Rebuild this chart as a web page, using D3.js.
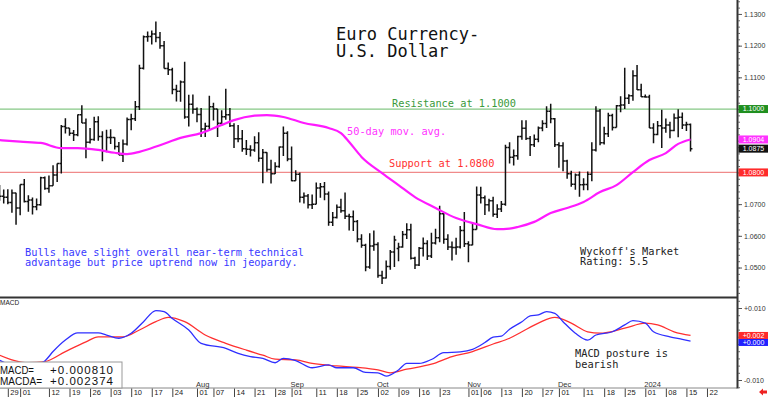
<!DOCTYPE html>
<html>
<head>
<meta charset="utf-8">
<script src="https://cdn.jsdelivr.net/npm/d3@7"></script>
<style>
  body { margin: 0; background: #fff; }
  svg { display: block; font-family: "Liberation Sans", Arial, sans-serif; }
  .mono { font-family: "DejaVu Sans Mono", "Liberation Mono", monospace; }
</style>
</head>
<body>
<svg id="chart" width="768" height="397"></svg>
<script>
// trading days (weekdays) shown on the chart
const firstDay = "2023-05-25";
const lastDay = "2024-01-31";

// daily bars from firstDay on: [open, high, low, close]
const ohlc = [
  [1.0750,1.0760,1.0711,1.0725],[1.0725,1.0746,1.0702,1.0722],[1.0722,1.0747,1.0700,1.0705],[1.0705,1.0746,1.0673,1.0735],
  [1.0735,1.0736,1.0635,1.0688],[1.0688,1.0762,1.0665,1.0762],[1.0762,1.0779,1.0705,1.0708],[1.0708,1.0728,1.0676,1.0713],
  [1.0713,1.0721,1.0667,1.0692],[1.0692,1.0718,1.0681,1.0698],[1.0698,1.0786,1.0695,1.0783],[1.0783,1.0787,1.0745,1.0749],
  [1.0749,1.0790,1.0736,1.0758],[1.0758,1.0823,1.0758,1.0792],[1.0792,1.0828,1.0770,1.0828],[1.0828,1.0950,1.0797,1.0945],
  [1.0945,1.0971,1.0923,1.0940],[1.0940,1.0940,1.0916,1.0924],[1.0924,1.0934,1.0899,1.0919],[1.0919,1.0983,1.0914,1.0982],
  [1.0982,1.1012,1.0956,1.0956],[1.0956,1.0970,1.0845,1.0895],[1.0895,1.0940,1.0891,1.0904],[1.0904,1.0976,1.0900,1.0960],
  [1.0960,1.0977,1.0900,1.0913],[1.0913,1.0930,1.0835,1.0867],[1.0867,1.0935,1.0864,1.0910],[1.0910,1.0936,1.0890,1.0910],
  [1.0910,1.0911,1.0872,1.0882],[1.0882,1.0896,1.0855,1.0855],[1.0855,1.0904,1.0833,1.0890],[1.0890,1.0973,1.0885,1.0967],
  [1.0967,1.0985,1.0933,1.0969],[1.0969,1.1025,1.0962,1.1007],[1.1007,1.1140,1.0997,1.1129],[1.1129,1.1232,1.1125,1.1228],
  [1.1228,1.1245,1.1212,1.1229],[1.1229,1.1248,1.1204,1.1237],[1.1237,1.1276,1.1211,1.1226],[1.1226,1.1243,1.1190,1.1200],
  [1.1200,1.1215,1.1128,1.1128],[1.1128,1.1147,1.1107,1.1124],[1.1124,1.1130,1.1047,1.1062],[1.1062,1.1077,1.1024,1.1056],
  [1.1056,1.1090,1.1023,1.1085],[1.1085,1.1149,1.0969,1.0975],[1.0975,1.1045,1.0945,1.1015],[1.1015,1.1046,1.0985,1.0999],
  [1.0999,1.1005,1.0958,1.0983],[1.0983,1.1003,1.0912,1.0937],[1.0937,1.0957,1.0912,1.0946],[1.0946,1.1042,1.0935,1.1007],
  [1.1007,1.1020,1.0964,1.1000],[1.1000,1.1000,1.0912,1.0955],[1.0955,1.0996,1.0947,1.0976],[1.0976,1.1064,1.0966,1.0982],
  [1.0982,1.1003,1.0943,1.0947],[1.0947,1.0955,1.0877,1.0906],[1.0906,1.0950,1.0895,1.0906],[1.0906,1.0934,1.0865,1.0875],
  [1.0875,1.0902,1.0855,1.0873],[1.0873,1.0886,1.0850,1.0871],[1.0871,1.0914,1.0865,1.0894],[1.0894,1.0927,1.0834,1.0845],
  [1.0845,1.0874,1.0766,1.0863],[1.0863,1.0864,1.0802,1.0809],[1.0809,1.0840,1.0765,1.0796],[1.0796,1.0832,1.0795,1.0819],
  [1.0819,1.0882,1.0815,1.0880],[1.0880,1.0945,1.0852,1.0924],[1.0924,1.0930,1.0835,1.0842],[1.0842,1.0882,1.0772,1.0774],
  [1.0774,1.0807,1.0774,1.0794],[1.0794,1.0800,1.0705,1.0722],[1.0722,1.0737,1.0702,1.0726],[1.0726,1.0732,1.0686,1.0698],
  [1.0698,1.0730,1.0685,1.0700],[1.0700,1.0768,1.0700,1.0751],[1.0751,1.0767,1.0720,1.0755],[1.0755,1.0770,1.0712,1.0732],
  [1.0732,1.0740,1.0632,1.0643],[1.0643,1.0675,1.0631,1.0658],[1.0658,1.0699,1.0655,1.0690],[1.0690,1.0717,1.0673,1.0679],
  [1.0679,1.0737,1.0653,1.0662],[1.0662,1.0670,1.0617,1.0660],[1.0660,1.0680,1.0615,1.0645],[1.0645,1.0650,1.0580,1.0590],
  [1.0590,1.0605,1.0562,1.0570],[1.0570,1.0575,1.0488,1.0502],[1.0502,1.0608,1.0496,1.0568],[1.0568,1.0617,1.0553,1.0573],
  [1.0573,1.0580,1.0468,1.0475],[1.0475,1.0490,1.0448,1.0467],[1.0467,1.0522,1.0465,1.0503],[1.0503,1.0555,1.0493,1.0549],
  [1.0549,1.0600,1.0502,1.0587],[1.0560,1.0578,1.0520,1.0565],[1.0565,1.0615,1.0562,1.0604],[1.0604,1.0640,1.0590,1.0619],
  [1.0619,1.0638,1.0525,1.0529],[1.0529,1.0534,1.0495,1.0508],[1.0508,1.0565,1.0505,1.0561],[1.0561,1.0595,1.0535,1.0576],
  [1.0576,1.0586,1.0524,1.0536],[1.0536,1.0610,1.0530,1.0577],[1.0577,1.0622,1.0573,1.0594],[1.0594,1.0695,1.0580,1.0670],
  [1.0670,1.0675,1.0575,1.0589],[1.0589,1.0605,1.0555,1.0565],[1.0565,1.0582,1.0522,1.0563],[1.0563,1.0594,1.0540,1.0565],
  [1.0565,1.0631,1.0560,1.0617],[1.0617,1.0675,1.0565,1.0575],[1.0575,1.0583,1.0517,1.0571],[1.0571,1.0640,1.0570,1.0620],
  [1.0620,1.0756,1.0620,1.0729],[1.0729,1.0755,1.0702,1.0720],[1.0720,1.0727,1.0666,1.0698],[1.0698,1.0717,1.0677,1.0711],
  [1.0711,1.0723,1.0660,1.0668],[1.0668,1.0700,1.0656,1.0685],[1.0685,1.0710,1.0675,1.0700],[1.0700,1.0887,1.0695,1.0879],
  [1.0879,1.0895,1.0828,1.0848],[1.0848,1.0872,1.0822,1.0853],[1.0853,1.0916,1.0840,1.0913],[1.0913,1.0965,1.0903,1.0939],
  [1.0939,1.0965,1.0902,1.0907],[1.0907,1.0915,1.0852,1.0887],[1.0887,1.0920,1.0880,1.0905],[1.0905,1.0945,1.0895,1.0940],
  [1.0940,1.0965,1.0930,1.0954],[1.0954,1.1009,1.0940,1.0993],[1.0993,1.1017,1.0955,1.0969],[1.0969,1.0972,1.0880,1.0887],
  [1.0887,1.0895,1.0815,1.0884],[1.0884,1.0895,1.0804,1.0836],[1.0836,1.0840,1.0780,1.0796],[1.0796,1.0805,1.0755,1.0763],
  [1.0763,1.0797,1.0745,1.0792],[1.0792,1.0803,1.0723,1.0761],[1.0761,1.0782,1.0744,1.0762],[1.0762,1.0803,1.0744,1.0794],
  [1.0794,1.0895,1.0772,1.0871],[1.0871,1.1009,1.0866,1.0994],[1.0994,1.1000,1.0886,1.0894],[1.0894,1.0944,1.0888,1.0922],
  [1.0922,1.0988,1.0912,1.0980],[1.0980,1.0985,1.0932,1.0942],[1.0942,1.1013,1.0942,1.1010],[1.1010,1.1040,1.0990,1.1013],
  [1.1013,1.1130,1.1000,1.1034],[1.1034,1.1047,1.1016,1.1042],[1.1042,1.1122,1.1026,1.1105],[1.1105,1.1139,1.1060,1.1061],
  [1.1061,1.1080,1.1038,1.1039],[1.1039,1.1046,1.1036,1.1038],[1.1038,1.1045,1.0940,1.0940],[1.0940,1.0955,1.0892,1.0920],
  [1.0920,1.0962,1.0917,1.0947],[1.0947,1.0998,1.0877,1.0940],[1.0940,1.0970,1.0925,1.0950],[1.0950,1.0960,1.0908,1.0932],
  [1.0932,1.0986,1.0930,1.0972],[1.0972,1.0999,1.0911,1.0974],[1.0974,1.0989,1.0937,1.0950],[1.0950,1.0960,1.0931,1.0951],
  [1.0951,1.0954,1.0866,1.0875]
];

// 50-day moving average
const movAvg = [
  ["2023-05-25",1.0902],["2023-06-01",1.0897],["2023-06-08",1.0893],["2023-06-15",1.0877],["2023-06-21",1.0877],
  ["2023-06-28",1.0871],["2023-07-04",1.0862],["2023-07-07",1.0858],["2023-07-12",1.0865],["2023-07-19",1.0886],
  ["2023-07-26",1.0909],["2023-08-02",1.0924],["2023-08-09",1.0950],["2023-08-14",1.0965],["2023-08-21",1.0979],
  ["2023-08-24",1.0981],["2023-08-30",1.0975],["2023-09-06",1.0956],["2023-09-14",1.0940],["2023-09-19",1.0924],
  ["2023-09-21",1.0896],["2023-09-26",1.0849],["2023-10-03",1.0798],["2023-10-09",1.0760],["2023-10-13",1.0722],
  ["2023-10-20",1.0688],["2023-10-27",1.0656],["2023-11-03",1.0637],["2023-11-10",1.0621],["2023-11-15",1.0623],
  ["2023-11-17",1.0628],["2023-11-23",1.0644],["2023-11-29",1.0672],["2023-12-05",1.0688],["2023-12-11",1.0707],
  ["2023-12-15",1.0738],["2023-12-21",1.0760],["2023-12-27",1.0801],["2024-01-02",1.0839],["2024-01-08",1.0861],
  ["2024-01-11",1.0890],["2024-01-16",1.0904]
];

// MACD (blue) and its average MACDA (red)
const macd = [
  ["2023-05-25",-0.0045],["2023-05-30",-0.0060],["2023-06-02",-0.0066],["2023-06-07",-0.0058],["2023-06-09",-0.0047],
  ["2023-06-13",-0.0021],["2023-06-16",0.0011],["2023-06-21",0.0031],["2023-06-26",0.0031],["2023-06-28",0.0031],
  ["2023-06-30",0.0025],["2023-07-05",0.0016],["2023-07-10",0.0030],["2023-07-13",0.0062],["2023-07-18",0.0093],
  ["2023-07-20",0.0090],["2023-07-24",0.0071],["2023-07-28",0.0039],["2023-08-02",0.0002],["2023-08-10",-0.0012],
  ["2023-08-15",-0.0026],["2023-08-18",-0.0035],["2023-08-23",-0.0040],["2023-08-28",-0.0052],["2023-08-30",-0.0040],
  ["2023-09-04",-0.0046],["2023-09-08",-0.0066],["2023-09-14",-0.0058],["2023-09-18",-0.0066],["2023-09-22",-0.0066],
  ["2023-09-27",-0.0079],["2023-10-02",-0.0080],["2023-10-04",-0.0089],["2023-10-09",-0.0072],["2023-10-11",-0.0054],
  ["2023-10-16",-0.0054],["2023-10-19",-0.0043],["2023-10-24",-0.0024],["2023-10-30",-0.0022],["2023-11-02",-0.0015],
  ["2023-11-07",0.0004],["2023-11-09",0.0019],["2023-11-13",0.0022],["2023-11-15",0.0041],["2023-11-20",0.0062],
  ["2023-11-22",0.0078],["2023-11-24",0.0081],["2023-11-28",0.0090],["2023-11-30",0.0085],["2023-12-04",0.0062],
  ["2023-12-07",0.0030],["2023-12-12",0.0011],["2023-12-14",0.0025],["2023-12-20",0.0034],["2023-12-25",0.0053],
  ["2023-12-27",0.0065],["2024-01-01",0.0058],["2024-01-03",0.0034],["2024-01-09",0.0020],["2024-01-12",0.0013],
  ["2024-01-16",0.000810]
];
const macdAvg = [
  ["2023-05-25",-0.0031],["2023-05-30",-0.0044],["2023-06-05",-0.0052],["2023-06-09",-0.0049],["2023-06-16",-0.0021],
  ["2023-06-23",0.0006],["2023-06-28",0.0020],["2023-07-06",0.0020],["2023-07-12",0.0039],["2023-07-18",0.0062],
  ["2023-07-21",0.0074],["2023-07-27",0.0062],["2023-08-03",0.0025],["2023-08-10",0.0002],["2023-08-17",-0.0017],
  ["2023-08-23",-0.0031],["2023-08-28",-0.0042],["2023-09-04",-0.0044],["2023-09-08",-0.0054],["2023-09-18",-0.0061],
  ["2023-09-25",-0.0065],["2023-10-02",-0.0072],["2023-10-05",-0.0080],["2023-10-11",-0.0070],["2023-10-19",-0.0056],
  ["2023-10-26",-0.0035],["2023-11-02",-0.0021],["2023-11-09",0.0000],["2023-11-15",0.0016],["2023-11-20",0.0034],
  ["2023-11-24",0.0058],["2023-11-30",0.0074],["2023-12-06",0.0058],["2023-12-12",0.0034],["2023-12-15",0.0030],
  ["2023-12-25",0.0044],["2024-01-01",0.0058],["2024-01-04",0.0053],["2024-01-10",0.0034],["2024-01-16",0.002374]
];

const priceTicks = [1.05, 1.06, 1.07, 1.08, 1.09, 1.10, 1.11, 1.12, 1.13];
const macdTicks = [-0.010, 0, 0.010];
const dateTicks = [
  ["2023-05-29","29"],["2023-06-01","01"],["2023-06-12","12"],["2023-06-19","19"],["2023-06-26","26"],
  ["2023-07-03","03"],["2023-07-10","10"],["2023-07-17","17"],["2023-07-24","24"],["2023-08-01","01"],
  ["2023-08-07","07"],["2023-08-14","14"],["2023-08-21","21"],["2023-08-28","28"],["2023-09-01","01"],
  ["2023-09-11","11"],["2023-09-18","18"],["2023-09-25","25"],["2023-10-02","02"],["2023-10-09","09"],
  ["2023-10-16","16"],["2023-10-23","23"],["2023-11-01","01"],["2023-11-06","06"],["2023-11-13","13"],
  ["2023-11-20","20"],["2023-11-27","27"],["2023-12-01","01"],["2023-12-11","11"],["2023-12-18","18"],
  ["2023-12-25","25"],["2024-01-01","01"],["2024-01-08","08"],["2024-01-15","15"],["2024-01-22","22"]
];
const monthLabels = [
  ["2023-08-01","Aug"],["2023-09-01","Sep"],["2023-10-02","Oct"],
  ["2023-11-01","Nov"],["2023-12-01","Dec"],["2024-01-01","2024"]
];
const resistance = 1.1000;
const support = 1.0800;

// layout
const plotRight = 737, priceBottom = 297, macdTop = 298, macdBottom = 387.5;
const svg = d3.select("#chart");

const parseDay = d3.timeParse("%Y-%m-%d");
const fmtDay = d3.timeFormat("%Y-%m-%d");
const days = d3.timeDay.range(parseDay(firstDay), d3.timeDay.offset(parseDay(lastDay), 1))
  .filter(d => d.getDay() !== 0 && d.getDay() !== 6);
const dayIdx = new Map(days.map((d, i) => [fmtDay(d), i]));

// scales
const x = d3.scaleLinear().domain([0.1, 179.3]).range([0, plotRight]);
const y = d3.scaleLinear().domain([1.0407, 1.1344]).range([priceBottom, 0]);
const ym = d3.scaleLinear().domain([-0.01208, 0.01278]).range([macdBottom, macdTop]);
const pos = s => x(dayIdx.get(s));

const defs = svg.append("defs");
defs.append("clipPath").attr("id", "clipPrice")
  .append("rect").attr("x", 0).attr("y", 0).attr("width", plotRight).attr("height", priceBottom);
defs.append("clipPath").attr("id", "clipMacd")
  .append("rect").attr("x", 0).attr("y", macdTop).attr("width", plotRight).attr("height", macdBottom - macdTop);

// support / resistance
const pricePane = svg.append("g").attr("clip-path", "url(#clipPrice)");
pricePane.append("line").attr("x1", 0).attr("x2", plotRight)
  .attr("y1", y(resistance)).attr("y2", y(resistance))
  .attr("stroke", "#86c886").attr("stroke-width", 1.3);
pricePane.append("line").attr("x1", 0).attr("x2", plotRight)
  .attr("y1", y(support)).attr("y2", y(support))
  .attr("stroke", "#f08a8a").attr("stroke-width", 1.2);

// price bars
pricePane.append("path")
  .attr("fill", "none").attr("stroke", "#111").attr("stroke-width", 1.5)
  .attr("d", ohlc.map((b, i) => {
    const cx = x(i);
    return `M${cx},${y(b[1])}V${y(b[2])}M${cx - 1.9},${y(b[0])}H${cx}M${cx},${y(b[3])}H${cx + 1.9}`;
  }).join(""));

// 50-day moving average
const lineP = d3.line().x(d => pos(d[0])).y(d => y(d[1])).curve(d3.curveMonotoneX);
pricePane.append("path").datum(movAvg)
  .attr("fill", "none").attr("stroke", "#ff1aff").attr("stroke-width", 2.2)
  .attr("d", lineP);

// MACD pane
const macdPane = svg.append("g").attr("clip-path", "url(#clipMacd)");
const lineM = d3.line().x(d => pos(d[0])).y(d => ym(d[1])).curve(d3.curveMonotoneX);
macdPane.append("path").datum(macdAvg)
  .attr("fill", "none").attr("stroke", "#ff3030").attr("stroke-width", 1.3).attr("d", lineM);
macdPane.append("path").datum(macd)
  .attr("fill", "none").attr("stroke", "#2f2fff").attr("stroke-width", 1.3).attr("d", lineM);

// frame lines
svg.append("line").attr("x1", 0).attr("x2", plotRight)
  .attr("y1", priceBottom + 0.5).attr("y2", priceBottom + 0.5)
  .attr("stroke", "#333").attr("stroke-width", 2);
svg.append("line").attr("x1", 0).attr("x2", plotRight)
  .attr("y1", macdBottom + 0.5).attr("y2", macdBottom + 0.5)
  .attr("stroke", "#888").attr("stroke-width", 1);
svg.append("line").attr("x1", plotRight + 0.5).attr("x2", plotRight + 0.5)
  .attr("y1", 0).attr("y2", macdBottom + 1)
  .attr("stroke", "#333").attr("stroke-width", 2);

// last values, shown as tags on the right edge
const lastMa = movAvg[movAvg.length - 1][1];
const lastClose = ohlc[ohlc.length - 1][3];
const lastMacd = macd[macd.length - 1][1];
const lastAvg = macdAvg[macdAvg.length - 1][1];
const tagY = [resistance, lastMa, lastClose, support].map(y);
const avgY = ym(lastAvg);
const macdY = Math.max(ym(lastMacd), avgY + 7);
const covered = yy => tagY.concat([avgY, macdY]).some(t => Math.abs(t - yy) < 6);

// right price axis
const minorP = svg.append("g").attr("transform", `translate(${plotRight + 1},0)`)
  .call(d3.axisRight(y).ticks(45).tickSize(2).tickFormat(""));
minorP.select(".domain").remove();
minorP.selectAll("line").attr("stroke", "#666");
const axisP = svg.append("g").attr("transform", `translate(${plotRight + 1},0)`)
  .call(d3.axisRight(y).tickValues(priceTicks).tickFormat(d3.format(".4f")).tickSize(4).tickPadding(2));
axisP.select(".domain").remove();
axisP.selectAll("line").attr("stroke", "#555");
axisP.selectAll("text").attr("font-size", 7).attr("font-family", "Liberation Sans, Arial").attr("fill", "#333");
axisP.selectAll(".tick").filter(d => covered(y(d))).select("text").remove();

// right MACD axis
const fmtSigned = d => (d < 0 ? "-" : "+") + Math.abs(d).toFixed(3);
const minorM = svg.append("g").attr("transform", `translate(${plotRight + 1},0)`)
  .call(d3.axisRight(ym).ticks(10).tickSize(2).tickFormat(""));
minorM.select(".domain").remove();
minorM.selectAll("line").attr("stroke", "#666");
const axisM = svg.append("g").attr("transform", `translate(${plotRight + 1},0)`)
  .call(d3.axisRight(ym).tickValues(macdTicks).tickFormat(fmtSigned).tickSize(4).tickPadding(2));
axisM.select(".domain").remove();
axisM.selectAll("line").attr("stroke", "#555");
axisM.selectAll("text").attr("font-size", 7).attr("font-family", "Liberation Sans, Arial").attr("fill", "#333");
axisM.selectAll(".tick").filter(d => covered(ym(d))).select("text").remove();

// value tags
function tag(yy, label, fill, h) {
  const g = svg.append("g");
  g.append("rect").attr("x", plotRight + 1.5).attr("y", yy - h / 2).attr("width", 30).attr("height", h).attr("fill", fill);
  g.append("text").attr("x", plotRight + 16.5).attr("y", yy).attr("dy", "0.35em")
    .attr("text-anchor", "middle").attr("font-size", 7).attr("fill", "#fff").text(label);
}
const fmt4 = d3.format(".4f");
const trunc3 = v => (v < 0 ? "-" : "+") + (Math.floor(Math.abs(v) * 1000) / 1000).toFixed(3);
tag(y(resistance), fmt4(resistance), "#1f8f1f", 8);
tag(y(lastMa), fmt4(lastMa), "#ff33ff", 8);
tag(y(lastClose), fmt4(lastClose), "#111", 8);
tag(y(support), fmt4(support), "#ff2a2a", 8);
tag(avgY, trunc3(lastAvg), "#ff2a2a", 7);
tag(macdY, trunc3(lastMacd), "#2020ff", 7);

// date axis
const axisD = svg.append("g").attr("transform", `translate(0,${macdBottom + 1})`)
  .call(d3.axisBottom(x).tickValues(dateTicks.map(t => dayIdx.get(t[0])))
    .tickFormat((d, i) => dateTicks[i][1]).tickSize(9).tickPadding(0));
axisD.select(".domain").remove();
axisD.selectAll("line").attr("stroke", "#444");
axisD.selectAll("text").attr("text-anchor", "start").attr("x", 2).attr("y", 1.5)
  .attr("font-size", 7.5).attr("font-family", "Liberation Sans, Arial").attr("fill", "#222");
svg.append("g").selectAll("text").data(monthLabels).join("text")
  .attr("x", d => pos(d[0]) - 1).attr("y", macdBottom - 1)
  .attr("font-size", 7.5).attr("fill", "#333").text(d => d[1]);

// red arrow, bottom right
svg.append("path").attr("d", "M759,392L763,388.5V390.5H767V393.5H763V395.5Z").attr("fill", "#ee2222");

// MACD pane label
svg.append("text").attr("x", 0).attr("y", macdTop + 7).attr("font-size", 6.5).attr("fill", "#222").text("MACD");

// MACD legend box
const legend = svg.append("g");
legend.append("rect").attr("x", -1).attr("y", 362).attr("width", 123).attr("height", 26)
  .attr("fill", "#fff").attr("stroke", "#999");
const fmt6 = v => (v < 0 ? "-" : "+") + Math.abs(v).toFixed(6);
[["MACD=", lastMacd, 373.5, 34], ["MACDA=", lastAvg, 384.5, 42]].forEach(r => {
  legend.append("text").attr("x", 0).attr("y", r[2]).attr("font-size", 11.5).attr("fill", "#111")
    .attr("textLength", r[3]).attr("lengthAdjust", "spacingAndGlyphs").text(r[0]);
  legend.append("text").attr("x", 50).attr("y", r[2]).attr("font-size", 11.5).attr("fill", "#111")
    .attr("textLength", 63).attr("lengthAdjust", "spacing").text(fmt6(r[1]));
});

// titles and notes
const note = (tx, ty, lines, size, color, lh) => {
  const t = svg.append("text").attr("class", "mono").attr("font-size", size).attr("fill", color);
  lines.forEach((s, i) => t.append("tspan").attr("x", tx).attr("y", ty + i * lh).text(s));
};
note(336, 39.5, ["Euro Currency-", "U.S. Dollar"], 17, "#111", 17.5);
note(392, 106.5, ["Resistance at 1.1000"], 10.3, "#3a9a3a", 0);
note(347, 134.5, ["50-day mov. avg."], 10.3, "#ff33ff", 0);
note(389, 166.5, ["Support at 1.0800"], 10.3, "#ff3030", 0);
note(25, 255.5, ["Bulls have slight overall near-term technical",
                 "advantage but price uptrend now in jeopardy."], 10.3, "#3a3aff", 10.8);
note(580, 254.5, ["Wyckoff's Market", "Rating: 5.5"], 10.3, "#222", 10.5);
note(575, 357, ["MACD posture is", "bearish"], 10.3, "#222", 10.5);
</script>
</body>
</html>
